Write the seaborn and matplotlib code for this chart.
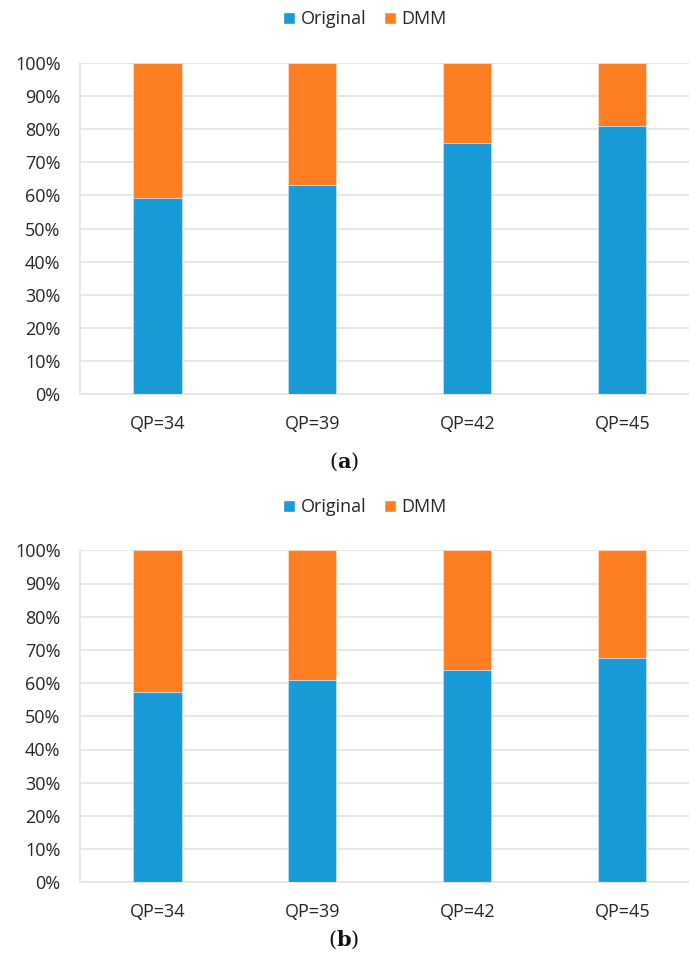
import matplotlib
matplotlib.use("Agg")
import matplotlib.pyplot as plt
from matplotlib.patches import Patch
import seaborn as sns
import pandas as pd

categories = ["QP=34", "QP=39", "QP=42", "QP=45"]
original_a = [59.2, 63.0, 75.7, 80.8]
dmm_a = [40.8, 37.0, 24.3, 19.2]
original_b = [57.3, 60.9, 64.0, 67.6]
dmm_b = [42.7, 39.1, 36.0, 32.4]
y_ticks = [0, 10, 20, 30, 40, 50, 60, 70, 80, 90, 100]
y_tick_labels = [f"{t}%" for t in y_ticks]
panel_labels = ["a", "b"]

BLUE = "#189bd6"
ORANGE = "#fe7f22"
GRID = "#e3e3e3"

sns.set_theme(style="white")
plt.rcParams["font.family"] = ["Open Sans", "DejaVu Sans"]
plt.rcParams["mathtext.fontset"] = "dejavuserif"

fig = plt.figure(figsize=(6.89, 9.64), dpi=100)
W, H = 689, 964

def px_axes(left, top0, bottom0, right):
    return fig.add_axes([left / W, (H - bottom0) / H, (right - left) / W, (bottom0 - top0) / H])

panels = [
    (original_a, dmm_a, 62.7, 394.3, 19, 462),
    (original_b, dmm_b, 550.3, 882.3, 507, 940),
]

for (orig, dmm, top_px, base_px, legend_y, caption_y), label in zip(panels, panel_labels):
    ax = px_axes(80, top_px, base_px, 689)
    df = pd.DataFrame({
        "cat": categories,
        "Original": orig,
        "total": [o + d for o, d in zip(orig, dmm)],
    })
    sns.barplot(data=df, x="cat", y="total", color=ORANGE, width=0.31,
                saturation=1, ax=ax, zorder=3, edgecolor="#ffd9bf", linewidth=0.6)
    sns.barplot(data=df, x="cat", y="Original", color=BLUE, width=0.31,
                saturation=1, ax=ax, zorder=4, edgecolor="#bfe3f5", linewidth=0.6)
    ax.set_xlim(-0.5, 3.43)
    ax.set_ylim(0, 100)
    ax.set_yticks(y_ticks)
    ax.set_yticklabels(y_tick_labels)
    ax.yaxis.grid(True, color=GRID, linewidth=1.2, zorder=0)
    ax.set_axisbelow(True)
    ax.set_xlabel("")
    ax.set_ylabel("")
    for side in ["top", "right"]:
        ax.spines[side].set_visible(False)
    for side in ["left", "bottom"]:
        ax.spines[side].set_color(GRID)
        ax.spines[side].set_linewidth(1.2)
    ax.tick_params(axis="y", length=0, pad=14, labelsize=13, colors="#262626")
    ax.tick_params(axis="x", length=0, pad=15, labelsize=13, colors="#262626")

    handles = [Patch(facecolor=BLUE, label="Original"), Patch(facecolor=ORANGE, label="DMM")]
    fig.legend(handles=handles, loc="center", bbox_to_anchor=(365 / W, 1 - legend_y / H),
               ncol=2, frameon=False, fontsize=13, handlelength=0.65, handleheight=0.65,
               handletextpad=0.3, columnspacing=1.0, labelcolor="#262626")

    fig.text(344 / W, 1 - caption_y / H, f"($\\mathbf{{{label}}}$)", ha="center", va="center",
             fontsize=15, family="DejaVu Serif", color="#111111")

fig.savefig("out.png", dpi=100, facecolor="white")
